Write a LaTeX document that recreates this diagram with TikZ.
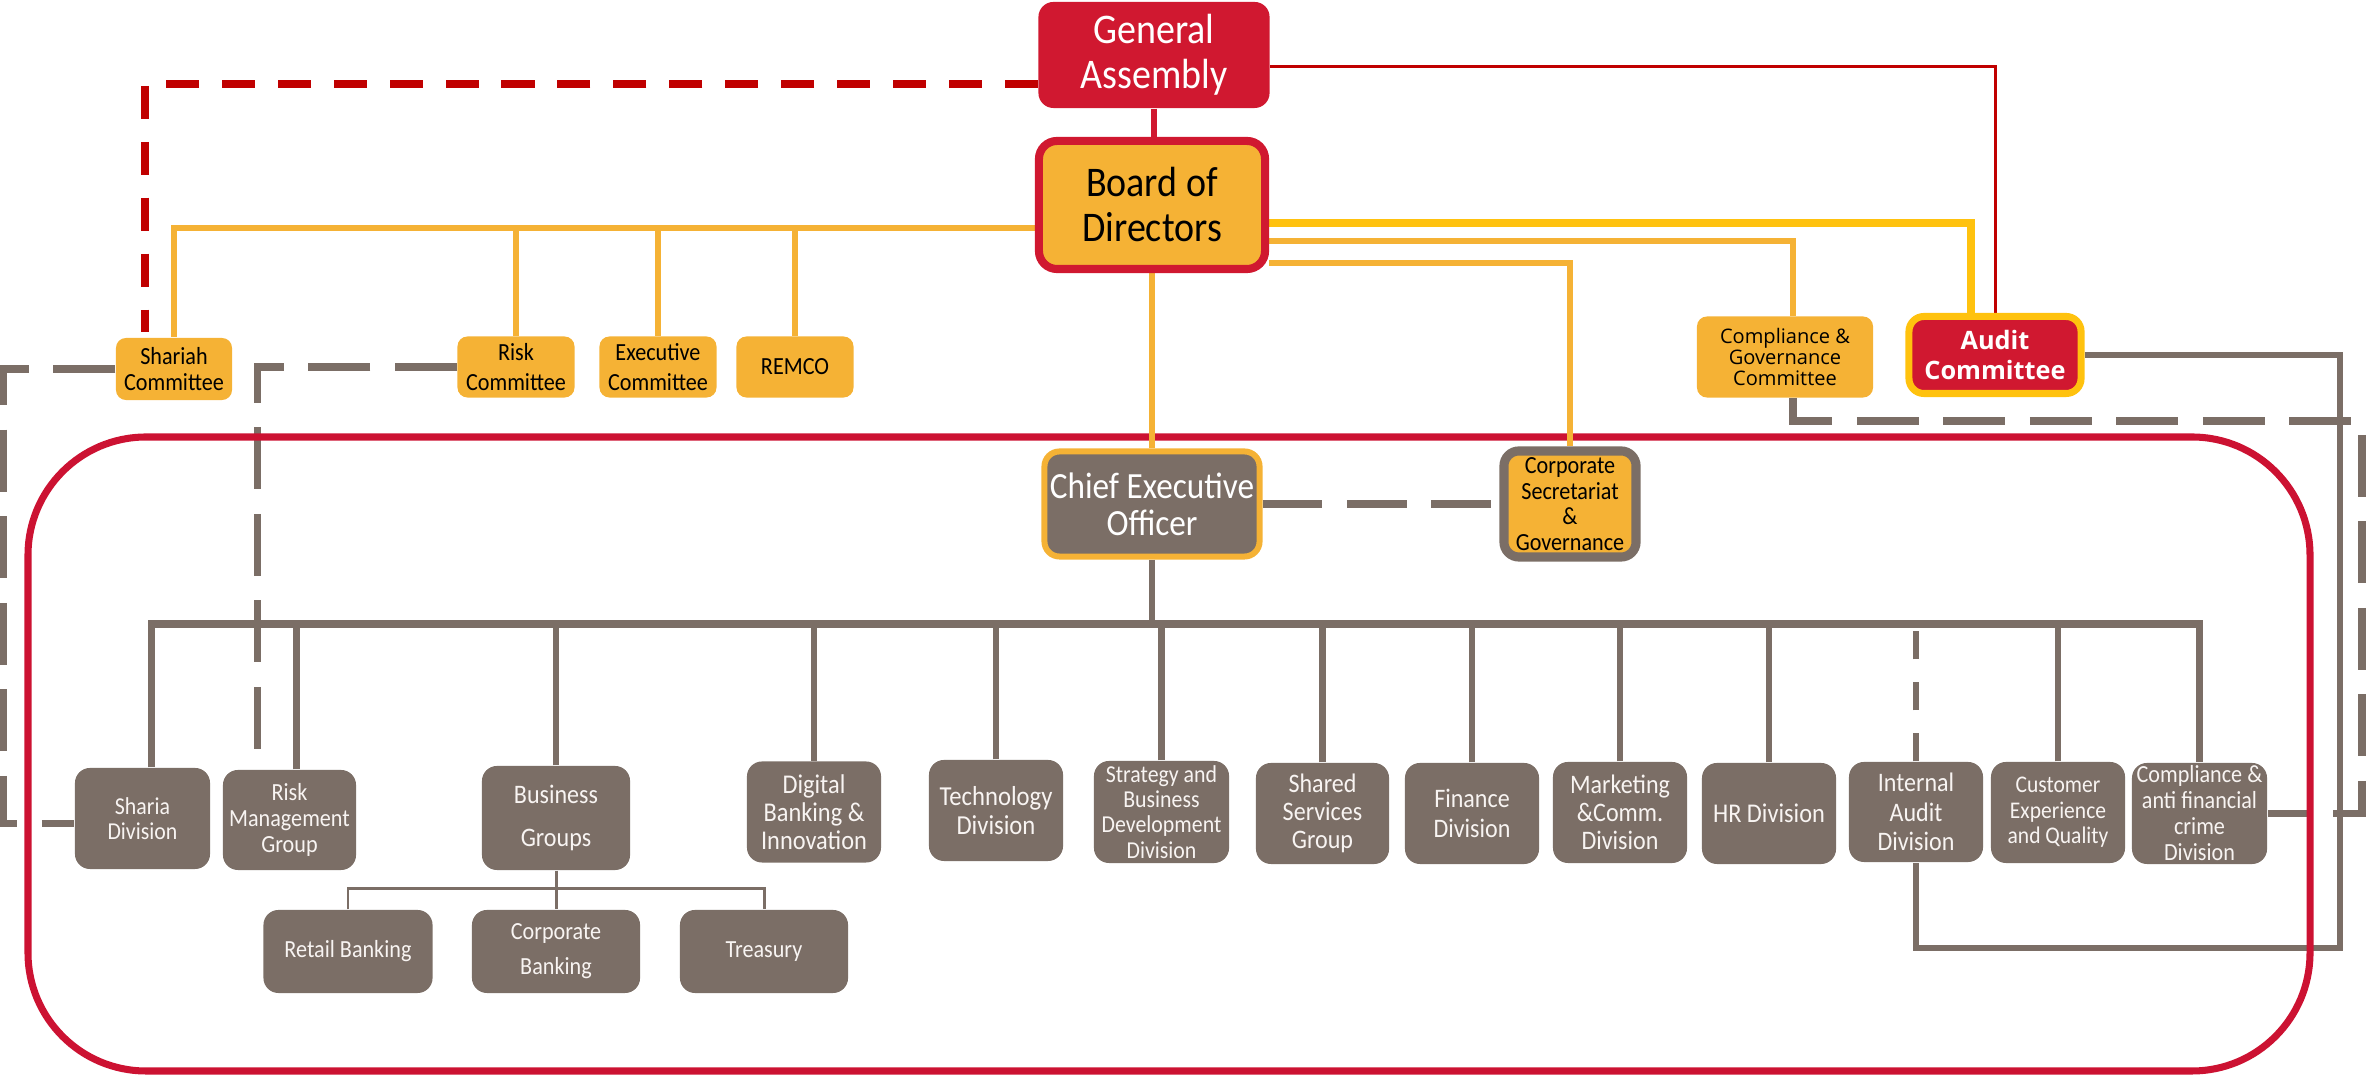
\documentclass[tikz,border=0pt]{standalone}
\usepackage{fontspec}
\setmainfont{Carlito}[FakeStretch=0.9]
\newfontfamily\osans{Open Sans}
\usetikzlibrary{calc,backgrounds}
\definecolor{gared}{RGB}{208,24,48}
\definecolor{dkred}{RGB}{192,0,0}
\definecolor{framered}{RGB}{204,18,50}
\definecolor{orng}{RGB}{245,178,53}
\definecolor{yell}{RGB}{255,194,14}
\definecolor{gry}{RGB}{123,110,102}
\definecolor{wtxt}{RGB}{248,244,242}
\newcommand\fs[2]{\fontsize{#1}{#2}\selectfont}
\begin{document}
\begin{tikzpicture}[x=0.01cm,y=-0.01cm,
  box/.style={rounded corners=0.15cm, inner sep=0pt, align=center},
  divbox/.style={box, fill=gry, text=wtxt, minimum width=1.34cm, minimum height=1.01cm},
  subbox/.style={box, fill=gry, text=wtxt, minimum width=1.68cm, minimum height=0.83cm, font=\fs{7}{10}},
  combox/.style={box, fill=orng, text=black, rounded corners=0.1cm, minimum width=1.17cm, minimum height=0.61cm},
  oline/.style={draw=orng, line width=1.8pt},
  yline/.style={draw=yell, line width=2.2pt},
  rthin/.style={draw=dkred, line width=0.85pt},
  rdashed/.style={draw=dkred, line width=2.3pt, dash pattern=on 9.4pt off 6.5pt},
  gline/.style={draw=gry, line width=1.8pt},
  gdashed/.style={draw=gry, line width=2.2pt, dash pattern=on 17.6pt off 7pt},
  iadash/.style={draw=gry, line width=1.8pt, dash pattern=on 8pt off 6.5pt},
  subln/.style={draw=gry, line width=0.85pt}
]
\useasboundingbox (0,0) rectangle (2366,1077);

% helper coordinates
\coordinate (busy) at (0,624);
\coordinate (bl) at (1035,228);
\coordinate (bgj) at (556,889);
\coordinate (rdend) at (145,332);

% ---------- nodes ----------
\node[box, fill=gared, text=white, minimum width=2.31cm, minimum height=1.06cm, font=\fs{12}{12.8}] (ga) at (1154,55) {General\\Assembly};
\node[box, fill=orng, draw=gared, line width=2.3pt, rounded corners=0.18cm, minimum width=2.26cm, minimum height=1.28cm, font=\fs{12}{12.8}] (board) at (1152,205) {Board of\\Directors};
\node[combox, minimum width=1.16cm, minimum height=0.62cm, font=\fs{7}{7.5}] (shcom) at (174,369) {Shariah\\Committee};
\node[combox, font=\fs{7}{8.5}] (riskc) at (516,367) {Risk\\Committee};
\node[combox, font=\fs{7}{8.5}] (execc) at (658,367) {Executive\\Committee};
\node[combox, font=\fs{7}{8.5}] (remco) at (795,367) {REMCO};
\node[combox, minimum width=1.76cm, minimum height=0.81cm, font=\osans\fs{5.7}{5.9}] (cgc) at (1785,357) {Compliance \&\\Governance\\Committee};
\node[box, fill=gared, draw=yell, line width=2pt, text=white, minimum width=1.72cm, minimum height=0.77cm, font=\osans\bfseries\fs{7.2}{8.8}] (audit) at (1995,355) {Audit\\Committee};
\node[box, fill=gry, draw=orng, line width=1.7pt, text=white, minimum width=2.15cm, minimum height=1.05cm, font=\fs{10.5}{10.5}] (ceo) at (1152,504) {Chief Executive\\Officer};
\node[box, fill=orng, draw=gry, line width=2.6pt, minimum width=1.32cm, minimum height=1.06cm, font=\fs{7}{7.3}] (csg) at (1570,504) {Corporate\\Secretariat\\\&\\Governance};

\node[divbox, minimum width=1.35cm, font=\fs{6.9}{7.2}] (sharia) at (142.5,818.5) {Sharia\\Division};
\node[divbox, minimum width=1.33cm, minimum height=1.00cm, font=\fs{7}{7.5}] (riskmg) at (289.5,820) {Risk\\Management\\Group};
\node[divbox, minimum width=1.48cm, minimum height=1.04cm, font=\fs{7.6}{12}] (busgrp) at (556,818) {Business\\Groups};
\node[divbox, font=\fs{7.7}{8}] (digital) at (814,812) {Digital\\Banking \&\\Innovation};
\node[divbox, font=\fs{7.8}{8.3}] (tech) at (996,810.5) {Technology\\Division};
\node[divbox, minimum width=1.35cm, minimum height=1.02cm, font=\fs{6.9}{7.2}] (strat) at (1161.5,812) {Strategy and\\Business\\Development\\Division};
\node[divbox, minimum width=1.33cm, font=\fs{7.6}{8}] (shared) at (1322.5,813.5) {Shared\\Services\\Group};
\node[divbox, font=\fs{7.6}{8.3}] (finance) at (1472,813.5) {Finance\\Division};
\node[divbox, font=\fs{7.6}{8}] (marketing) at (1620,812.5) {Marketing\\\&Comm.\\Division};
\node[divbox, font=\fs{7.7}{8}] (hr) at (1769,813.5) {HR Division};
\node[divbox, minimum height=1.00cm, font=\fs{7.6}{8.3}] (intaudit) at (1916,812) {Internal\\Audit\\Division};
\node[divbox, font=\fs{6.8}{7.3}] (custexp) at (2058,812.5) {Customer\\Experience\\and Quality};
\node[divbox, minimum width=1.35cm, font=\fs{7}{7.4}] (afc) at (2199.5,813.5) {Compliance \&\\anti financial\\crime\\Division};
\node[subbox, minimum width=1.69cm] (retail) at (348,951.5) {Retail Banking};
\node[subbox] (corp) at (556,951.5) {Corporate\\Banking};
\node[subbox] (treasury) at (764,951.5) {Treasury};

% ---------- connectors (behind nodes) ----------
\begin{scope}[on background layer]
  % grey solid lines: CEO to divisions
  \draw[gline] (ceo.south) -- (ceo.south |- busy);
  \draw[gline, line width=2pt] ($(sharia.north)+(9,0)$) |- (afc.north |- busy) -- (afc.north);
  \draw[gline] ($(riskmg.north)+(7,0)$) coordinate (rmt) -- (rmt |- busy);
  \foreach \n in {busgrp,digital,tech,strat,shared,finance,marketing,hr,custexp}
    \draw[gline] (\n.north) -- (\n.north |- busy);
  \draw[iadash] (intaudit.north) -- (intaudit.north |- busy);
  % business groups children
  \draw[subln] (retail.north) |- (bgj) -| (treasury.north);
  \draw[subln] (busgrp.south) -- (corp.north);
  % dashed grey lines
  \draw[gdashed, dash pattern=on 17pt off 7pt] (ceo.east) -- (csg.west);
  \draw[gdashed] (shcom.west) -| (3,600) |- ($(sharia.west)+(0,5)$);
  \draw[gdashed] (riskc.west) -| ($(riskmg.north)+(-32,0)$);
  \draw[gdashed] ($(cgc.south)+(8,0)$) |- (2362,421) |- (afc.east);
  % audit line
  \draw[gline] (audit.east) -| (2340,948) -| (intaudit.south);
  % red frame
  \draw[draw=framered, line width=2pt, rounded corners=1.18cm] (28,437) rectangle (2310,1071);
  % orange lines from board
  \draw[oline] ($(board.west)+(0,23)$) -| (shcom.north);
  \foreach \n in {riskc,execc,remco}
    \draw[oline] (\n.north) -- (\n.north |- bl);
  \draw[yline] ($(board.east)+(0,18)$) -| ($(audit.north)+(-24,0)$);
  \draw[oline] ($(board.east)+(0,36)$) -| ($(cgc.north)+(8,0)$);
  \draw[oline] ($(board.east)+(0,58)$) -| (csg.north);
  \draw[oline] (board.south) -- (board.south |- ceo.north);
  % red lines from general assembly
  \draw[draw=gared, line width=1.7pt] (ga.south) -- (ga.south |- board.north);
  \draw[rthin] ($(ga.east)+(0,12)$) -| (audit.north);
  \draw[rdashed] ($(ga.west)+(0,29)$) -| (rdend);
\end{scope}

\end{tikzpicture}
\end{document}
